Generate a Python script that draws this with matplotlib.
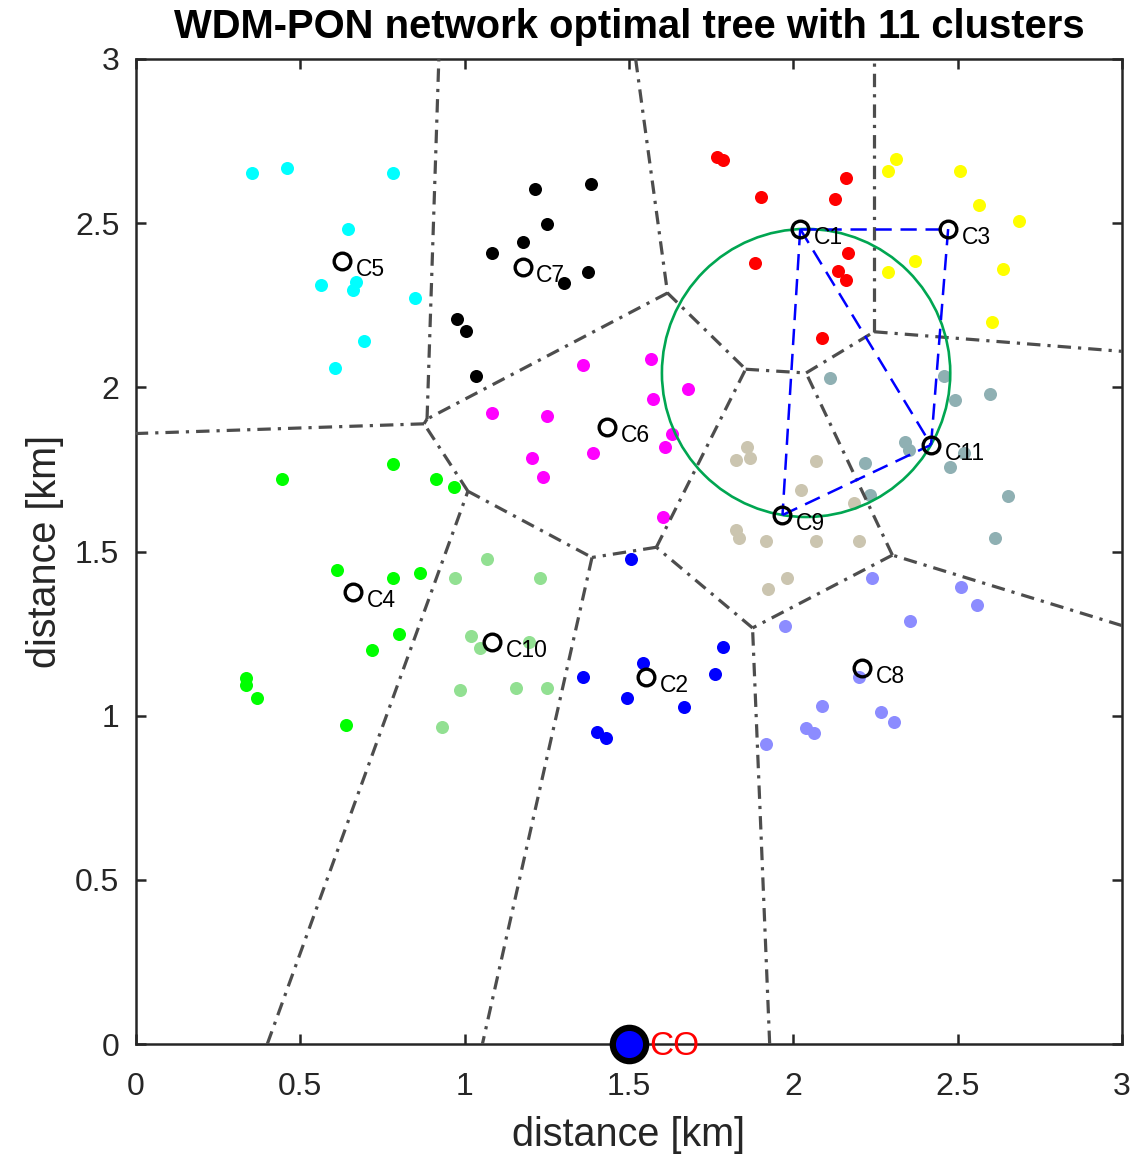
import numpy as np
import matplotlib
matplotlib.use("Agg")
import matplotlib.pyplot as plt
from matplotlib.patches import Circle
from matplotlib.ticker import FuncFormatter

# points of each cluster [km]
c1_x = [1.769, 1.787, 1.903, 2.161, 2.128, 2.167, 1.884, 2.137, 2.161, 2.088]
c1_y = [2.702, 2.693, 2.580, 2.638, 2.574, 2.409, 2.379, 2.355, 2.327, 2.150]
c2_x = [1.505, 1.787, 1.544, 1.359, 1.763, 1.495, 1.666, 1.404, 1.429]
c2_y = [1.477, 1.209, 1.161, 1.118, 1.127, 1.054, 1.026, 0.950, 0.932]
c3_x = [2.313, 2.289, 2.508, 2.565, 2.687, 2.371, 2.289, 2.638, 2.605]
c3_y = [2.696, 2.659, 2.659, 2.556, 2.507, 2.385, 2.352, 2.361, 2.199]
c4_x = [0.444, 0.781, 0.912, 0.967, 0.611, 0.781, 0.863, 0.799, 0.717, 0.334, 0.334, 0.368, 0.638]
c4_y = [1.721, 1.767, 1.721, 1.697, 1.444, 1.419, 1.435, 1.249, 1.200, 1.115, 1.094, 1.054, 0.972]
c5_x = [0.353, 0.459, 0.781, 0.644, 0.562, 0.669, 0.660, 0.848, 0.693, 0.605]
c5_y = [2.653, 2.668, 2.653, 2.482, 2.312, 2.321, 2.297, 2.272, 2.141, 2.059]
c6_x = [1.359, 1.568, 1.681, 1.574, 1.082, 1.252, 1.632, 1.611, 1.389, 1.204, 1.237, 1.602]
c6_y = [2.068, 2.087, 1.995, 1.965, 1.922, 1.913, 1.858, 1.818, 1.800, 1.785, 1.727, 1.605]
c7_x = [1.213, 1.383, 1.252, 1.179, 1.082, 1.374, 1.301, 0.976, 1.003, 1.033]
c7_y = [2.604, 2.620, 2.498, 2.443, 2.409, 2.352, 2.318, 2.208, 2.172, 2.035]
c8_x = [2.240, 2.511, 2.559, 1.976, 2.356, 2.201, 2.088, 2.267, 2.307, 2.040, 2.064, 1.918]
c8_y = [1.419, 1.392, 1.337, 1.273, 1.288, 1.118, 1.030, 1.011, 0.981, 0.963, 0.947, 0.914]
c9_x = [1.860, 1.827, 1.869, 2.070, 2.024, 2.185, 1.827, 1.836, 1.918, 2.070, 2.201, 1.982, 1.924]
c9_y = [1.818, 1.779, 1.785, 1.776, 1.687, 1.648, 1.566, 1.541, 1.532, 1.532, 1.532, 1.419, 1.386]
c10_x = [1.067, 0.970, 1.228, 1.018, 1.046, 1.195, 0.985, 1.155, 1.252, 0.930]
c10_y = [1.477, 1.419, 1.419, 1.243, 1.206, 1.224, 1.078, 1.084, 1.084, 0.966]
c11_x = [2.112, 2.459, 2.492, 2.599, 2.340, 2.353, 2.520, 2.477, 2.219, 2.234, 2.653, 2.614]
c11_y = [2.029, 2.035, 1.962, 1.980, 1.834, 1.809, 1.800, 1.758, 1.770, 1.672, 1.669, 1.541]

cluster_colors = ["#ff0000", "#0000ff", "#ffff00", "#00ff00", "#00ffff", "#ff00ff",
                  "#000000", "#8c8cff", "#cbc5b0", "#92e092", "#8fb0b3"]

# cluster heads C1..C11
center_x = [2.021, 1.553, 2.471, 0.660, 0.626, 1.432, 1.176, 2.210, 1.967, 1.082, 2.419]
center_y = [2.482, 1.118, 2.482, 1.377, 2.385, 1.879, 2.367, 1.145, 1.611, 1.224, 1.825]
center_names = ["C1", "C2", "C3", "C4", "C5", "C6", "C7", "C8", "C9", "C10", "C11"]

# tree links between cluster heads (1-based)
links = [(1, 3), (3, 11), (1, 11), (1, 9), (9, 11)]
ring_heads = [1, 9, 11]

co_x, co_y = 1.5, 0.0
area = 3.0

plt.rcParams["font.family"] = ["Liberation Sans", "DejaVu Sans"]


def voronoi_segments(px, py, size):
    # each edge = part of the bisector of i,j where i and j are the nearest heads
    pts = np.column_stack([px, py])
    segs = []
    n = len(pts)
    for i in range(n):
        for j in range(i + 1, n):
            m = (pts[i] + pts[j]) / 2
            diff = pts[j] - pts[i]
            d = np.array([-diff[1], diff[0]])
            lo, hi = -1e9, 1e9
            for k in range(n):
                if k in (i, j):
                    continue
                e = pts[k] - pts[i]
                r = pts[k] @ pts[k] - pts[i] @ pts[i]
                a = 2 * (d @ e)
                b = r - 2 * (m @ e)
                if abs(a) < 1e-12:
                    if b < 0:
                        lo, hi = 1, 0
                    continue
                if a > 0:
                    hi = min(hi, b / a)
                else:
                    lo = max(lo, b / a)
            for ax_i in range(2):
                if abs(d[ax_i]) < 1e-12:
                    continue
                t1 = (0 - m[ax_i]) / d[ax_i]
                t2 = (size - m[ax_i]) / d[ax_i]
                lo = max(lo, min(t1, t2))
                hi = min(hi, max(t1, t2))
            if hi - lo > 1e-9:
                segs.append((m + lo * d, m + hi * d))
    return segs


def circumcircle(p1, p2, p3):
    ax_, ay = p1
    bx, by = p2
    cx, cy = p3
    dd = 2 * (ax_ * (by - cy) + bx * (cy - ay) + cx * (ay - by))
    ux = ((ax_**2 + ay**2) * (by - cy) + (bx**2 + by**2) * (cy - ay) + (cx**2 + cy**2) * (ay - by)) / dd
    uy = ((ax_**2 + ay**2) * (cx - bx) + (bx**2 + by**2) * (ax_ - cx) + (cx**2 + cy**2) * (bx - ax_)) / dd
    return ux, uy, np.hypot(ax_ - ux, ay - uy)


fig = plt.figure(figsize=(11.35, 11.58), dpi=100)
ax = fig.add_axes([136 / 1135, 1 - 1044 / 1158, 986 / 1135, 985 / 1158])

all_x = [c1_x, c2_x, c3_x, c4_x, c5_x, c6_x, c7_x, c8_x, c9_x, c10_x, c11_x]
all_y = [c1_y, c2_y, c3_y, c4_y, c5_y, c6_y, c7_y, c8_y, c9_y, c10_y, c11_y]
for xs, ys, col in zip(all_x, all_y, cluster_colors):
    ax.scatter(xs, ys, s=88, color=col, linewidths=0, zorder=2)

# voronoi borders of the clusters
for p, q in voronoi_segments(center_x, center_y, area):
    ax.plot([p[0], q[0]], [p[1], q[1]], color="#4d4d4d", lw=2.3,
            linestyle=(0, (4.2, 2.2, 1.0, 2.2)), zorder=3)

# ring through the heads
rp = [(center_x[k - 1], center_y[k - 1]) for k in ring_heads]
ux, uy, rr = circumcircle(*rp)
ax.add_patch(Circle((ux, uy), rr, fill=False, color="#00a651", lw=1.9, zorder=4))

for a, b in links:
    ax.plot([center_x[a - 1], center_x[b - 1]], [center_y[a - 1], center_y[b - 1]],
            color="#0000ff", lw=1.8, linestyle=(0, (6.5, 3.5)), zorder=5)

ax.plot(center_x, center_y, "o", ms=12, mfc="none", mec="black", mew=2.4, zorder=6)
for x, y, name in zip(center_x, center_y, center_names):
    ax.text(x + 0.042, y - 0.027, name, fontsize=16.5, ha="left", va="center", zorder=7)

ax.plot(co_x, co_y, "o", ms=24, mfc="#0000ff", mec="black", mew=4.5, zorder=8, clip_on=False)
ax.text(co_x + 0.062, co_y - 0.007, "CO", color="red", fontsize=24, ha="left", va="center",
        zorder=8, clip_on=False)

ax.set_xlim(0, area)
ax.set_ylim(0, area)
ax.set_xticks(np.arange(0, 3.01, 0.5))
ax.set_yticks(np.arange(0, 3.01, 0.5))
fmt = FuncFormatter(lambda v, pos: "%g" % v)
ax.xaxis.set_major_formatter(fmt)
ax.yaxis.set_major_formatter(fmt)
ax.tick_params(direction="in", length=7, width=1.8, top=True, right=True,
               labelsize=23, colors="#262626")
ax.tick_params(axis="x", pad=20)
ax.tick_params(axis="y", pad=12)
for s in ax.spines.values():
    s.set_linewidth(1.8)
    s.set_color("#262626")

ax.set_xlabel("distance [km]", fontsize=28.5, color="#262626", labelpad=10)
ax.set_ylabel("distance [km]", fontsize=28.5, color="#262626", labelpad=8)
ax.set_title("WDM-PON network optimal tree with 11 clusters", fontsize=28.8,
             fontweight="bold", pad=15)

fig.savefig("out.png", dpi=100)
